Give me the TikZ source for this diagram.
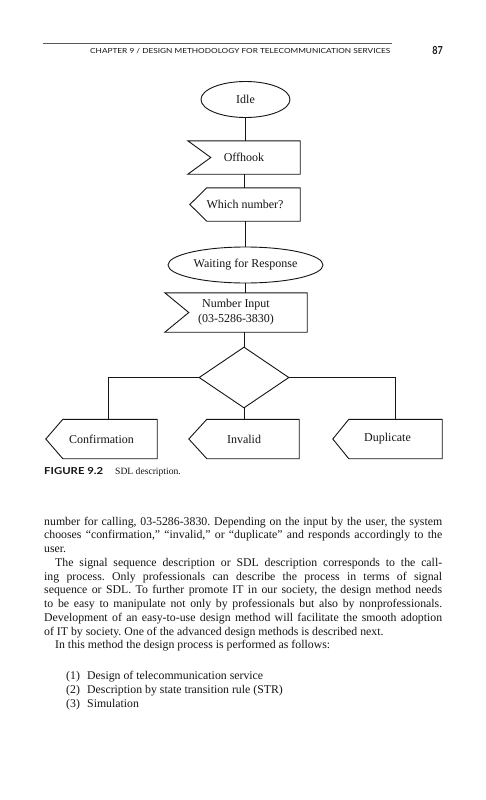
\documentclass[tikz,border=0pt]{standalone}
\usepackage{graphicx}
\usepackage{fontspec}
\setmainfont{Liberation Serif}
\newfontfamily\gill{Lato}
\usetikzlibrary{shapes.geometric,calc}
\definecolor{ink}{HTML}{151515}
\newsavebox\lnbox
\newcommand\jline[2][398pt]{\sbox\lnbox{#2}\ifdim\wd\lnbox>#1\relax\resizebox{#1}{\height}{\usebox\lnbox}\else\hbox to #1{#2}\fi}
\frenchspacing
\begin{document}
\begin{tikzpicture}[x=1pt,y=-1pt,
  line/.style={draw=ink,line width=0.9pt},
  lbl/.style={font=\fontsize{12}{15}\selectfont,text=ink,inner sep=0pt},
  body/.style={anchor=base west,inner sep=0pt,font=\fontsize{11.8}{13}\selectfont,text=ink},
  hd/.style={anchor=base west,inner sep=0pt,text=ink}]
\useasboundingbox (0,0) rectangle (486,800);
\fill[white] (0,0) rectangle (486,800);

% header
\draw[draw=black!65,line width=0.6pt] (43,43.3) -- (392,43.3);
\node[hd] (hdr) at (90,53.5) {\resizebox{300pt}{\height}{\gill\fontsize{7}{8}\selectfont CHAPTER 9 / DESIGN METHODOLOGY FOR TELECOMMUNICATION SERVICES}};
\node[hd,anchor=base east] (pg) at (443,54.3) {\resizebox{10.5pt}{\height}{\gill\bfseries\fontsize{11}{12}\selectfont 87}};

% diagram nodes
\node[lbl,line,ellipse,minimum width=89pt,minimum height=36pt] (idle) at (245.5,99.5) {Idle};
\node[lbl,minimum width=112pt,minimum height=33pt] (off) at (244,157.5) {Offhook};
\node[lbl,minimum width=110pt,minimum height=33pt] (which) at (245,204.5) {Which number?};
\node[lbl,line,ellipse,minimum width=155pt,minimum height=36pt] (wait) at (245.5,265) {Waiting for Response};
\node[lbl,minimum width=142pt,minimum height=39pt,align=center] (numin) at (236,312.5) {Number Input\\(03-5286-3830)};
\node[line,diamond,minimum width=90pt,minimum height=61pt,inner sep=0pt] (dia) at (244,377.5) {};
\node[lbl,minimum width=111pt,minimum height=39pt] (conf) at (101.5,439) {Confirmation};
\node[lbl,minimum width=110pt,minimum height=39pt] (inv) at (244,439) {Invalid};
\node[lbl,minimum width=109pt,minimum height=39pt] (dup) at (387.5,439) {Duplicate};

% input signal outlines
\draw[line] (off.north west) -- (off.north east) -- (off.south east) -- (off.south west) -- ($(off.west)+(23,0)$) -- cycle;
\draw[line] (numin.north west) -- (numin.north east) -- (numin.south east) -- (numin.south west) -- ($(numin.west)+(24,0)$) -- cycle;
% output signal outlines
\draw[line] (which.north east) -- ($(which.north west)+(17,0)$) -- (which.west) -- ($(which.south west)+(17,0)$) -- (which.south east) -- cycle;
\draw[line] (conf.north east) -- ($(conf.north west)+(17,0)$) -- (conf.west) -- ($(conf.south west)+(17,0)$) -- (conf.south east) -- cycle;
\draw[line] (inv.north east) -- ($(inv.north west)+(18,0)$) -- (inv.west) -- ($(inv.south west)+(18,0)$) -- (inv.south east) -- cycle;
\draw[line] (dup.north east) -- ($(dup.north west)+(16,0)$) -- (dup.west) -- ($(dup.south west)+(16,0)$) -- (dup.south east) -- cycle;

% connectors
\draw[line] (idle.south) -- (idle.south |- off.north);
\draw[line] (off.south) -- (off.south |- which.north);
\draw[line] (which.south) -- (which.south |- wait.north);
\draw[line] (wait.south) -- (wait.south |- numin.north);
\draw[line] (dia.north |- numin.south) -- (dia.north);
\draw[line] (dia.west) -| ($(conf.north)+(6.5,0)$);
\draw[line] (dia.east) -| ($(dup.north)+(7.5,0)$);
\draw[line] (dia.south) -- (inv.north);

% caption
\node[hd] (capA) at (44,474) {\resizebox{59pt}{\height}{\gill\bfseries\fontsize{9.6}{11}\selectfont FIGURE 9.2}};
\node[hd,font=\fontsize{9.6}{11}\selectfont] (capB) at (115,474) {SDL description.};

% body text
\node[body] (l1) at (44,525) {\jline{number for calling, 03-5286-3830. Depending on the input by the user, the system}};
\node[body] (l2) at (44,538.75) {\jline{chooses “confirmation,” “invalid,” or “duplicate” and responds accordingly to the}};
\node[body] (l3) at (44,552.5) {user.};
\node[body] (l4) at (55,566.25) {\jline[387pt]{The signal sequence description or SDL description corresponds to the call-}};
\node[body] (l5) at (44,580) {\jline{ing process. Only professionals can describe the process in terms of signal}};
\node[body] (l6) at (44,593.75) {\jline{sequence or SDL. To further promote IT in our society, the design method needs}};
\node[body] (l7) at (44,607.5) {\jline{to be easy to manipulate not only by professionals but also by nonprofessionals.}};
\node[body] (l8) at (44,621.25) {\jline{Development of an easy-to-use design method will facilitate the smooth adoption}};
\node[body] (l9) at (44,635) {of IT by society. One of the advanced design methods is described next.};
\node[body] (l10) at (55,648.75) {In this method the design process is performed as follows:};
\node[body] (i1) at (66,679.5) {\makebox[21pt][l]{(1)}Design of telecommunication service};
\node[body] (i2) at (66,693.5) {\makebox[21pt][l]{(2)}Description by state transition rule (STR)};
\node[body] (i3) at (66,707.5) {\makebox[21pt][l]{(3)}Simulation};
\end{tikzpicture}
\end{document}
